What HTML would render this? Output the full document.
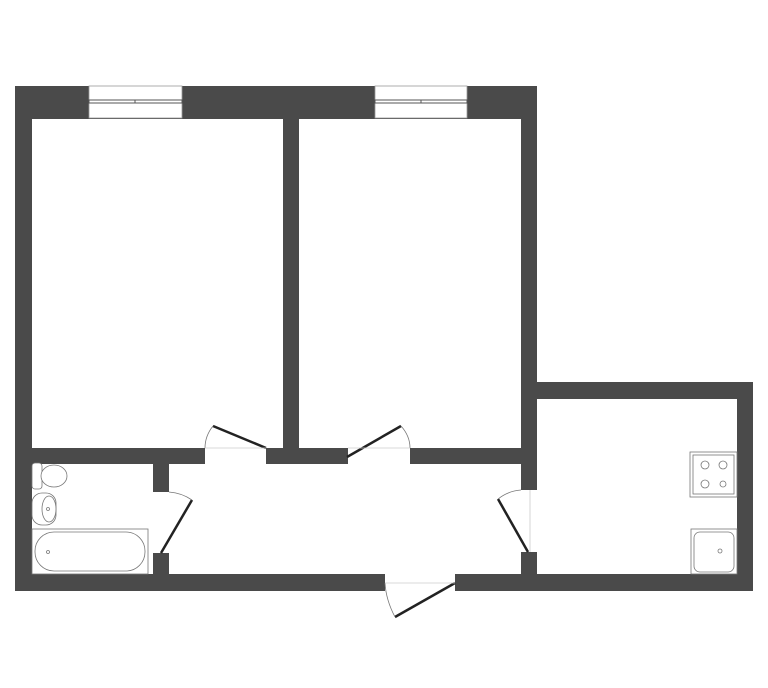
<!DOCTYPE html>
<html><head><meta charset="utf-8"><style>body{margin:0;background:#fff}svg{display:block}</style></head><body>
<svg width="768" height="688" viewBox="0 0 768 688" xmlns="http://www.w3.org/2000/svg">
<g fill="#4a4a4a">
<rect x="15" y="86" width="522" height="33"/>
<rect x="15" y="86" width="17" height="505"/>
<rect x="283" y="86" width="16" height="378"/>
<rect x="521" y="86" width="16" height="404"/>
<rect x="521" y="552" width="16" height="39"/>
<rect x="15" y="448" width="190" height="16"/>
<rect x="266" y="448" width="82" height="16"/>
<rect x="410" y="448" width="127" height="16"/>
<rect x="153" y="448" width="16" height="44"/>
<rect x="153" y="553" width="16" height="38"/>
<rect x="15" y="574" width="370" height="17"/>
<rect x="455" y="574" width="298" height="17"/>
<rect x="521" y="382" width="232" height="17"/>
<rect x="737" y="382" width="16" height="209"/>
</g>
<g fill="#fff" stroke="#999" stroke-width="0.8">
<rect x="89" y="86" width="93" height="32"/>
<rect x="375" y="86" width="92" height="32"/>
</g>
<g fill="none" stroke="#555" stroke-width="1">
<rect x="89" y="100" width="93" height="3"/><line x1="135" y1="100" x2="135" y2="103"/>
<rect x="375" y="100" width="92" height="3"/><line x1="421" y1="100" x2="421" y2="103"/>
</g>
<g stroke="#222" stroke-width="2.5" fill="none">
<line x1="266" y1="448" x2="213" y2="426"/>
<line x1="347" y1="457" x2="401" y2="426"/>
<line x1="161" y1="553" x2="192" y2="500"/>
<line x1="528" y1="552" x2="498" y2="499"/>
<line x1="455" y1="583" x2="395" y2="617"/>
</g>
<g stroke="#777" stroke-width="0.8" fill="none">
<path d="M213 426 Q205 436 205 448"/>
<path d="M401 426 Q410 436 410 448"/>
<path d="M192 500 Q182 493 169 492"/>
<path d="M498 499 Q508 491 521 490"/>
<path d="M395 617 Q386 600 385 583"/>
<line x1="205" y1="448" x2="266" y2="448" stroke="#ccc"/>
<line x1="348" y1="448" x2="410" y2="448" stroke="#ccc"/>
<line x1="385" y1="583" x2="455" y2="583" stroke="#ccc"/>
<line x1="530" y1="490" x2="530" y2="552" stroke="#ccc"/>
</g>
<g stroke="#777" stroke-width="0.8" fill="#fff">
<rect x="32" y="463" width="10" height="26" rx="3"/>
<ellipse cx="54" cy="476" rx="13" ry="11"/>
<rect x="32" y="493" width="24" height="32" rx="10"/>
<ellipse cx="49" cy="509" rx="7" ry="13"/>
<rect x="32" y="529" width="116" height="45"/>
<rect x="35" y="532" width="110" height="39" rx="19"/>
<circle cx="48" cy="552" r="1.5"/><circle cx="48" cy="509" r="1.5"/>
<rect x="690" y="452" width="47" height="45"/>
<rect x="693" y="455" width="41" height="39"/>
<circle cx="705" cy="465" r="4"/><circle cx="723" cy="465" r="4"/>
<circle cx="705" cy="484" r="4"/><circle cx="723" cy="484" r="3"/>
<rect x="691" y="529" width="46" height="45"/>
<rect x="694" y="532" width="40" height="40" rx="6"/>
<circle cx="720" cy="551" r="2"/>
</g>
</svg>
</body></html>
